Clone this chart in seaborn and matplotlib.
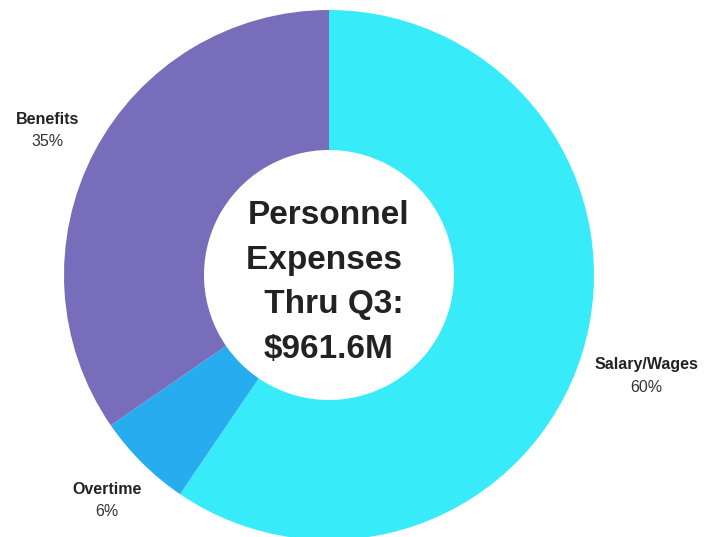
import matplotlib
matplotlib.use("Agg")
import matplotlib.pyplot as plt
import seaborn as sns

categories = ["Salary/Wages", "Overtime", "Benefits"]
values = [59.5, 5.9, 34.6]
pct_labels = ["60%", "6%", "35%"]
colors = ["#38EBF9", "#27ACEF", "#786DBA"]
center_title = "Personnel\nExpenses \n Thru Q3:\n$961.6M"

sns.set_theme(style="white")
plt.rcParams['font.family'] = ['Liberation Sans', 'DejaVu Sans']

fig = plt.figure(figsize=(7.16, 5.37), dpi=100)
ax = fig.add_axes([0, 0, 1, 1])

cx, cy, R = 329, 262, 265
ax.pie(values, colors=colors, startangle=90, counterclock=False,
       center=(cx, cy), radius=R, wedgeprops=dict(width=140, linewidth=0),
       frame=True)
ax.set_xlim(0, 716)
ax.set_ylim(0, 537)
ax.set_aspect('equal')
ax.axis('off')

label_pos = {"Salary/Wages": (646, 172), "Overtime": (107, 48), "Benefits": (48, 418)}
for cat, pl in zip(categories, pct_labels):
    x, y = label_pos[cat]
    ax.text(x, y, cat, ha='center', va='center', fontsize=11.5, fontweight='bold', color='#222222')
    ax.text(x, y - 22, pl, ha='center', va='center', fontsize=11.5, color='#333333')

ax.text(cx, 254.5, center_title, ha='center', va='center', fontsize=24,
        fontweight='bold', color='#222222', linespacing=1.57)

fig.savefig("out.png", dpi=100)
